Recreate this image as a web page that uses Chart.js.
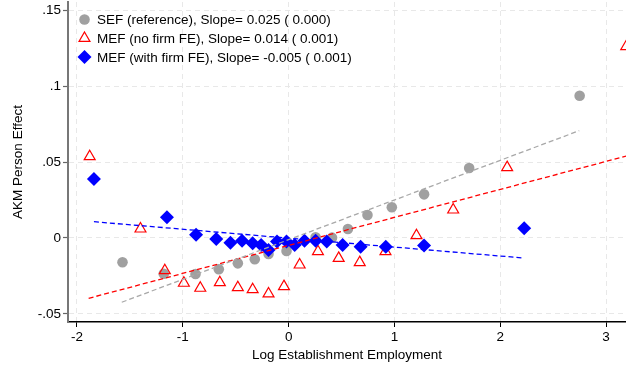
<!DOCTYPE html>
<html>
<head>
<meta charset="utf-8">
<script src="https://cdn.jsdelivr.net/npm/chart.js@4/dist/chart.umd.min.js"></script>
<style>
  html, body { margin: 0; padding: 0; background: #fff; }
  #wrap { width: 626px; height: 368px; }
</style>
</head>
<body>
<div id="wrap"><canvas id="chart" width="626" height="368"></canvas></div>
<script>
// binned scatter points
const sefX = [-1.57, -1.18, -0.88, -0.66, -0.48, -0.32, -0.19, -0.02, 0.255, 0.41, 0.56, 0.745, 0.975, 1.28, 1.706, 2.75];
const sefY = [-0.016, -0.0235, -0.0237, -0.0206, -0.0167, -0.014, -0.0105, -0.0086, 0.0005, 0.0002, 0.0059, 0.0151, 0.0202, 0.0287, 0.0461, 0.0936];

const mefX = [-1.88, -1.40, -1.17, -0.99, -0.835, -0.65, -0.48, -0.34, -0.19, -0.044, 0.104, 0.277, 0.473, 0.672, 0.915, 1.208, 1.555, 2.065, 3.19];
const mefY = [0.0536, 0.006, -0.0214, -0.0297, -0.033, -0.0293, -0.0326, -0.0339, -0.0367, -0.0319, -0.0177, -0.0089, -0.0133, -0.0161, -0.0089, 0.0016, 0.0185, 0.0464, 0.126];

const femX = [-1.84, -1.15, -0.875, -0.684, -0.55, -0.44, -0.34, -0.26, -0.19, -0.11, -0.02, 0.057, 0.15, 0.255, 0.36, 0.51, 0.68, 0.918, 1.28, 2.226];
const femY = [0.0388, 0.0136, 0.0022, -0.0007, -0.0031, -0.0018, -0.0035, -0.0046, -0.0079, -0.0024, -0.0024, -0.0046, -0.0018, -0.0018, -0.0024, -0.0046, -0.0057, -0.0057, -0.005, 0.0064];

// fitted lines (end points)
const sefFitX = [-1.577, 2.746];
const sefFitY = [-0.0423, 0.0706];
const mefFitX = [-1.89, 3.19];
const mefFitY = [-0.0397, 0.0539];
const femFitX = [-1.84, 2.223];
const femFitY = [0.0107, -0.0132];

const legendLabels = [
  'SEF (reference), Slope= 0.025 ( 0.000)',
  'MEF (no firm FE), Slope= 0.014 ( 0.001)',
  'MEF (with firm FE), Slope= -0.005 ( 0.001)'
];

const xTickValues = [-2, -1, 0, 1, 2, 3];
const xTickLabels = ['-2', '-1', '0', '1', '2', '3'];
const yTickValues = [-0.05, 0, 0.05, 0.1, 0.15];
const yTickLabels = ['-.05', '0', '.05', '.1', '.15'];

const pts = (xs, ys) => xs.map((x, i) => ({ x: x, y: ys[i] }));

Chart.defaults.font.family = '"Liberation Sans", Arial, sans-serif';
Chart.defaults.font.size = 13.5;
Chart.defaults.color = '#000';

const insideLegend = {
  id: 'insideLegend',
  afterDraw(chart) {
    const ctx = chart.ctx;
    const area = chart.chartArea;
    ctx.save();
    ctx.font = '13.5px "Liberation Sans", Arial, sans-serif';
    ctx.textBaseline = 'middle';
    ctx.textAlign = 'left';
    legendLabels.forEach((txt, i) => {
      const ds = chart.data.datasets[i];
      const y = area.top + 17.5 + i * 18.8;
      ctx.fillStyle = ds.backgroundColor;
      ctx.strokeStyle = ds.borderColor;
      ctx.lineWidth = ds.pointBorderWidth;
      Chart.helpers.drawPoint(ctx, {
        pointStyle: ds.pointStyle,
        radius: ds.pointRadius,
        borderWidth: ds.pointBorderWidth,
        rotation: 0
      }, area.left + 16.5, y);
      ctx.fillStyle = '#000';
      ctx.fillText(txt, area.left + 29, y + 1);
    });
    ctx.restore();
  }
};

const ctx = document.getElementById('chart').getContext('2d');
const chart = new Chart(ctx, {
  type: 'scatter',
  data: {
    datasets: [
      {
        label: legendLabels[0],
        data: pts(sefX, sefY),
        pointStyle: 'circle',
        pointRadius: 5.3,
        pointBorderWidth: 0,
        backgroundColor: '#a0a0a0',
        borderColor: '#a0a0a0',
        order: 3
      },
      {
        label: legendLabels[1],
        data: pts(mefX, mefY),
        pointStyle: 'triangle',
        pointRadius: 6.3,
        pointBorderWidth: 1.2,
        backgroundColor: 'rgba(255,255,255,0)',
        borderColor: '#ff0000',
        clip: false,
        order: 2
      },
      {
        label: legendLabels[2],
        data: pts(femX, femY),
        pointStyle: 'rectRot',
        pointRadius: 7,
        pointBorderWidth: 0,
        backgroundColor: '#0000ff',
        borderColor: '#0000ff',
        order: 1
      },
      {
        label: 'SEF fit',
        data: pts(sefFitX, sefFitY),
        showLine: true,
        pointRadius: 0,
        borderColor: '#a8a8a8',
        borderWidth: 1.3,
        borderDash: [5, 3],
        order: 0
      },
      {
        label: 'MEF fit',
        data: pts(mefFitX, mefFitY),
        showLine: true,
        pointRadius: 0,
        borderColor: '#ff0000',
        borderWidth: 1.3,
        borderDash: [5, 3],
        order: 0
      },
      {
        label: 'FE fit',
        data: pts(femFitX, femFitY),
        showLine: true,
        pointRadius: 0,
        borderColor: '#0000ff',
        borderWidth: 1.3,
        borderDash: [5, 3],
        order: 0
      }
    ]
  },
  options: {
    responsive: false,
    animation: false,
    devicePixelRatio: 1,
    layout: { autoPadding: false, padding: { top: 2, right: 0, left: 0, bottom: 0 } },
    plugins: {
      legend: { display: false },
      tooltip: { enabled: false }
    },
    scales: {
      x: {
        type: 'linear',
        min: -2.085,
        max: 3.188,
        afterBuildTicks: (scale) => { scale.ticks = xTickValues.map(v => ({ value: v })); },
        afterFit: (scale) => {
          scale.height = 46;
          scale.paddingLeft = 0;
          scale.paddingRight = 0;
        },
        ticks: {
          padding: 2,
          maxRotation: 0,
          callback: (v) => xTickLabels[xTickValues.indexOf(v)]
        },
        grid: {
          color: '#e8e8e8',
          lineWidth: 1,
          tickLength: 5,
          tickColor: '#000',
          tickWidth: 1,
          tickBorderDash: []
        },
        border: { color: '#000', width: 1.4, dash: [5, 4] },
        title: {
          display: true,
          text: 'Log Establishment Employment',
          padding: { top: 0, bottom: 5 }
        }
      },
      y: {
        type: 'linear',
        min: -0.0553,
        max: 0.1553,
        afterBuildTicks: (scale) => { scale.ticks = yTickValues.map(v => ({ value: v })); },
        afterFit: (scale) => {
          scale.width = 68;
          scale.paddingTop = 0;
          scale.paddingBottom = 0;
        },
        ticks: {
          padding: 2,
          callback: (v) => yTickLabels[yTickValues.findIndex(t => Math.abs(t - v) < 1e-9)]
        },
        grid: {
          color: '#e8e8e8',
          lineWidth: 1,
          tickLength: 5,
          tickColor: '#666',
          tickWidth: 1.2,
          tickBorderDash: []
        },
        border: { color: '#777', width: 2, dash: [5, 4] },
        title: {
          display: true,
          text: 'AKM Person Effect',
          padding: { top: 10, bottom: 0 }
        }
      }
    }
  },
  plugins: [insideLegend]
});
</script>
</body>
</html>
